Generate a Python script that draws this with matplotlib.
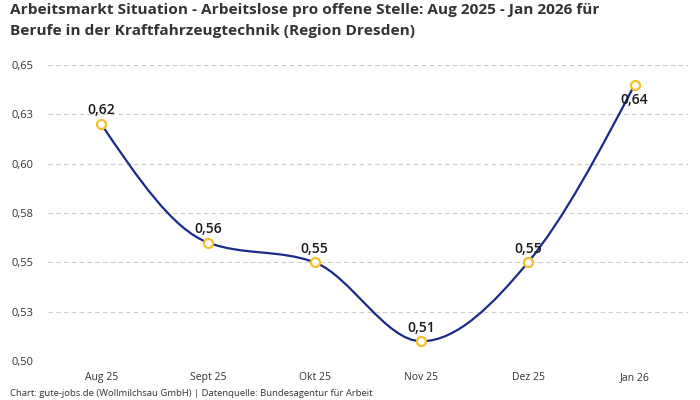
import matplotlib
matplotlib.use("Agg")
import matplotlib.pyplot as plt
from matplotlib.path import Path
from matplotlib.patches import PathPatch
import numpy as np

# data
months = ["Aug 25", "Sept 25", "Okt 25", "Nov 25", "Dez 25", "Jan 26"]
values = [0.62, 0.56, 0.55, 0.51, 0.55, 0.64]
value_labels = ["0,62", "0,56", "0,55", "0,51", "0,55", "0,64"]
ytick_values = [0.50, 0.525, 0.55, 0.575, 0.60, 0.625, 0.65]
ytick_labels = ["0,50", "0,53", "0,55", "0,58", "0,60", "0,63", "0,65"]

title_lines = ["Arbeitsmarkt Situation - Arbeitslose pro offene Stelle: Aug 2025 - Jan 2026 für",
               "Berufe in der Kraftfahrzeugtechnik (Region Dresden)"]
footer = "Chart: gute-jobs.de (Wollmilchsau GmbH) | Datenquelle: Bundesagentur für Arbeit"

line_color = "#1a2a8c"
marker_color = "#f5c02a"
text_font = ["Open Sans", "DejaVu Sans"]
title_font = ["Open Sans", "DejaVu Sans"]


def monotone_slopes(x, y):
    # tangents like d3 curveMonotoneX
    n = len(x)
    t = np.zeros(n)
    for i in range(1, n - 1):
        h0, h1 = x[i] - x[i - 1], x[i + 1] - x[i]
        s0, s1 = (y[i] - y[i - 1]) / h0, (y[i + 1] - y[i]) / h1
        p = (s0 * h1 + s1 * h0) / (h0 + h1)
        t[i] = (np.sign(s0) + np.sign(s1)) * min(abs(s0), abs(s1), 0.5 * abs(p))
    h = x[1] - x[0]
    t[0] = (3 * (y[1] - y[0]) / h - t[1]) / 2
    h = x[-1] - x[-2]
    t[-1] = (3 * (y[-1] - y[-2]) / h - t[-2]) / 2
    return t


fig = plt.figure(figsize=(7, 4), dpi=100)
ax = fig.add_axes([48 / 700, 39 / 400, 640 / 700, 296 / 400])

xs = np.arange(len(months), dtype=float)
ys = np.array(values)
tang = monotone_slopes(xs, ys)

verts = [(xs[0], ys[0])]
codes = [Path.MOVETO]
for i in range(len(xs) - 1):
    dx = xs[i + 1] - xs[i]
    verts += [(xs[i] + dx / 3, ys[i] + dx * tang[i] / 3),
              (xs[i + 1] - dx / 3, ys[i + 1] - dx * tang[i + 1] / 3),
              (xs[i + 1], ys[i + 1])]
    codes += [Path.CURVE4] * 3
ax.add_patch(PathPatch(Path(verts, codes), facecolor="none", edgecolor=line_color,
                       lw=1.6, zorder=3, capstyle="round"))

ax.plot(xs, ys, linestyle="none", marker="o", ms=6.5, mfc="white", mec=marker_color,
        mew=1.6, zorder=4)

for i, (v, lab) in enumerate(zip(values, value_labels)):
    if i == len(values) - 1:
        ax.annotate(lab, (xs[i], v), xytext=(0, -6), textcoords="offset points",
                    ha="center", va="top", fontsize=10, color="#1a1a1a", family=text_font,
                    fontweight="semibold", zorder=5)
    else:
        ax.annotate(lab, (xs[i], v), xytext=(0, 7), textcoords="offset points",
                    ha="center", va="baseline", fontsize=10, color="#1a1a1a", family=text_font,
                    fontweight="semibold", zorder=5)

ax.set_xlim(-0.5, 5.5)
ax.set_ylim(0.5, 0.65)
ax.set_xticks(xs)
ax.set_xticklabels(months, fontsize=7.5, color="#333333", family=text_font)
ax.set_yticks(ytick_values)
ax.set_yticklabels(ytick_labels, fontsize=8, color="#333333", family=text_font)
ax.tick_params(length=0)
ax.tick_params(axis="x", pad=8)
ax.tick_params(axis="y", pad=10.5)
for s in ax.spines.values():
    s.set_visible(False)
ax.grid(axis="y", color="#cccccc", linestyle=(0, (4, 3)), lw=0.8)
ax.set_axisbelow(True)

for k, line in enumerate(title_lines):
    fig.text(10 / 700, 1 - (14 + 21 * k) / 400, line, ha="left", va="baseline",
             fontsize=11.1, fontweight="bold", color="#333333", family=title_font)
fig.text(10 / 700, 1 - 393 / 400, footer, ha="left", va="center", fontsize=6.8,
         color="#333333", family=text_font)

fig.savefig("out.png", dpi=100)
